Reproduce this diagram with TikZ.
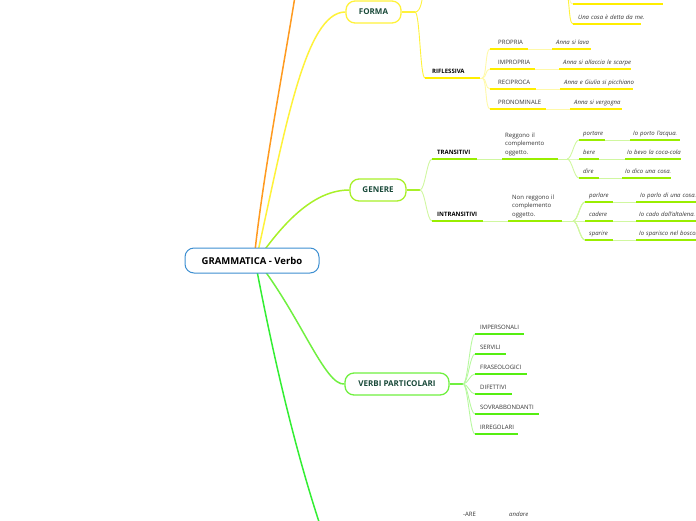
\documentclass[tikz,border=0pt]{standalone}
\usepackage{fontspec}
\setmainfont{Open Sans}
\usetikzlibrary{backgrounds}
\definecolor{brO}{HTML}{FF9A1F}
\definecolor{brY}{HTML}{FFF23A}
\definecolor{ulY}{HTML}{FFEE00}
\definecolor{paY}{HTML}{FFF9A8}
\definecolor{brL}{HTML}{A8F028}
\definecolor{ulL}{HTML}{99EE00}
\definecolor{paL}{HTML}{D0F7A0}
\definecolor{brG}{HTML}{70F040}
\definecolor{ulG}{HTML}{55EE11}
\definecolor{paG}{HTML}{B8F8A0}
\definecolor{brB}{HTML}{33EE33}
\definecolor{rootB}{HTML}{3D8FD1}
\definecolor{mainTxt}{HTML}{1A4A3A}
\definecolor{txtG}{HTML}{333333}
\newcommand\mmnode[7]{\node[#1, text width=#5pt] (#2) at (#3,#4) {\hspace*{#6pt}\begin{tabular}[b]{@{}l@{}}#7\end{tabular}};}
\newcommand\mmcurve[3]{\draw[#1] (#2) .. controls ([xshift=5pt]#2) and ([xshift=-5pt]#3) .. (#3);}
\begin{document}
\begin{tikzpicture}[x=1pt,y=-1pt,
  mainbox/.style={rounded corners=9pt, fill=white, line width=1.3pt, inner sep=0pt,
    minimum height=22pt, font=\fontsize{8}{9}\selectfont\bfseries, text=mainTxt},
  rootbox/.style={mainbox, draw=rootB, line width=1pt, minimum height=25pt, minimum width=134pt,
    font=\fontsize{9.5}{11}\selectfont\bfseries, text=black},
  mm/.style={anchor=south west, inner xsep=0pt, inner ysep=3pt, text depth=1.5pt,
    font=\fontsize{6}{8.5}\selectfont, text=txtG},
  mmb/.style={mm, font=\fontsize{6}{8.5}\selectfont\bfseries, text=black},
  mmi/.style={mm, font=\fontsize{6}{8.5}\selectfont\itshape},
  uline/.style={line width=2pt, draw=#1},
  pale/.style={line width=0.9pt, draw=#1},
  branch/.style={line width=1.5pt, draw=#1}
]
\clip (0,0) rectangle (696,520);
% main nodes
\node[rootbox] (root) at (252,260.5) {GRAMMATICA - Verbo};
\node[mainbox, draw=brY, minimum width=55pt] (forma) at (373.5,12) {FORMA};
\node[mainbox, draw=brL, minimum width=56pt] (genere) at (378,190) {GENERE};
\node[mainbox, draw=brG, minimum width=104pt] (verbi) at (397,384) {VERBI PARTICOLARI};
% coordinates
\coordinate (otop) at (296,-10);
\coordinate (bot) at (340,580);
\coordinate (fb) at (415,12);
\coordinate (fup) at (424,-12);
\coordinate (pb) at (565,-10);
\coordinate (rb) at (482,78);
\coordinate (gb) at (420,190);
\coordinate (tb) at (567,159);
\coordinate (ib) at (573,221);
\coordinate (vb) at (463,384);
% FORMA subtree
\mmnode{mmi}{pas1}{573}{4}{90}{5}{La cosa è stata detta da me.}
\mmnode{mmi}{pas2}{573}{24}{68}{5}{Una cosa è detta da me.}
\mmnode{mmb}{rifl}{425}{78}{55}{7}{RIFLESSIVA}
\mmnode{mm}{propria}{490}{49}{38}{8}{PROPRIA}
\mmnode{mm}{impropria}{490}{69}{45}{8}{IMPROPRIA}
\mmnode{mm}{reciproca}{490}{89}{46}{8}{RECIPROCA}
\mmnode{mm}{pronominale}{490}{109}{56}{8}{PRONOMINALE}
\mmnode{mmi}{la}{552}{49}{39}{4}{Anna si lava}
\mmnode{mmi}{lb}{559}{69}{72}{4}{Anna si allaccia le scarpe}
\mmnode{mmi}{lc}{560}{89}{73}{4}{Anna e Giulia si picchiano}
\mmnode{mmi}{ld}{570}{109}{52}{4}{Anna si vergogna}
% GENERE subtree
\mmnode{mmb}{trans}{432}{159}{45}{5}{TRANSITIVI}
\mmnode{mm}{reggono}{502}{159}{56}{3}{Reggono il\\complemento\\oggetto.}
\mmnode{mmi}{portare}{579}{140}{26}{4}{portare}
\mmnode{mmi}{bere}{579}{159}{20}{4}{bere}
\mmnode{mmi}{dire}{579}{178}{20}{4}{dire}
\mmnode{mmi}{ta}{630}{140}{50}{3}{Io porto l'acqua.}
\mmnode{mmi}{tb2}{625}{159}{56}{2}{Io bevo la coca-cola}
\mmnode{mmi}{tc}{622}{178}{49}{3}{Io dico una cosa.}
\mmnode{mmb}{intrans}{432}{221}{51}{5}{INTRANSITIVI}
\mmnode{mm}{nonreg}{508}{221}{54}{4}{Non reggono il\\complemento\\oggetto.}
\mmnode{mmi}{parlare}{585}{202}{28}{4}{parlare}
\mmnode{mmi}{cadere}{585}{221}{28}{4}{cadere}
\mmnode{mmi}{sparire}{585}{240}{28}{4}{sparire}
\mmnode{mmi}{ia}{636}{202}{62}{4}{Io parlo di una cosa.}
\mmnode{mmi}{ib2}{636}{221}{62}{3}{Io cado dall'altalena.}
\mmnode{mmi}{ic}{636}{240}{62}{3}{Io sparisco nel bosco.}
% VERBI PARTICOLARI subtree
\mmnode{mm}{imp}{475}{334}{49}{5}{IMPERSONALI}
\mmnode{mm}{ser}{475}{354}{31}{5}{SERVILI}
\mmnode{mm}{fra}{475}{374}{52}{5}{FRASEOLOGICI}
\mmnode{mm}{dif}{475}{394}{37}{5}{DIFETTIVI}
\mmnode{mm}{sov}{475}{414}{64}{5}{SOVRABBONDANTI}
\mmnode{mm}{irr}{475}{434}{43}{5}{IRREGOLARI}
% bottom subtree
\mmnode{mm}{are}{458}{521.5}{36}{5}{-ARE}
\mmnode{mmi}{andare}{505}{521.5}{36}{4}{andare}
% underlines
\foreach \n in {pas1,pas2,rifl,propria,impropria,reciproca,pronominale,la,lb,lc,ld}
  \draw[uline=ulY] (\n.south west) -- (\n.south east);
\foreach \n in {trans,reggono,portare,bere,dire,ta,tb2,tc,intrans,nonreg,parlare,cadere,sparire,ia,ib2,ic}
  \draw[uline=ulL] (\n.south west) -- (\n.south east);
\foreach \n in {imp,ser,fra,dif,sov,irr}
  \draw[uline=ulG] (\n.south west) -- (\n.south east);
\foreach \n in {are,andare}
  \draw[uline=brB] (\n.south west) -- (\n.south east);
\begin{pgfonlayer}{background}
% main branches
\draw[branch=brO] ([xshift=2pt]root.center) .. controls (262,180) and (285,60) .. (otop);
\draw[branch=brY] ([xshift=4pt]root.center) .. controls (285,130) and (305,12) .. (forma.west);
\draw[branch=brL] ([xshift=5pt]root.center) .. controls (285,220) and (315,190) .. (genere.west);
\draw[branch=brG] ([xshift=5pt]root.center) .. controls (300,315) and (325,386) .. (verbi.west);
\draw[branch=brB] ([xshift=3pt]root.center) .. controls (272,350) and (300,480) .. (bot);
% FORMA
\draw[pale=brY, line width=1.2pt] (forma.east) -- (fb);
\draw[pale=brY] (fb) .. controls (421,12) and (422,0) .. (fup);
\mmcurve{pale=brY}{fb}{rifl.south west}
\mmcurve{pale=paY}{pb}{pas1.south west}
\mmcurve{pale=brY}{pb}{pas2.south west}
\draw[pale=paY] (rifl.south east) -- (rb);
\foreach \n in {propria,impropria,reciproca,pronominale}
  \mmcurve{pale=paY}{rb}{\n.south west}
\draw[pale=paY] (propria.south east) -- (la.south west);
\draw[pale=paY] (impropria.south east) -- (lb.south west);
\draw[pale=paY] (reciproca.south east) -- (lc.south west);
\draw[pale=paY] (pronominale.south east) -- (ld.south west);
% GENERE
\draw[pale=brL, line width=1.2pt] (genere.east) -- (gb);
\mmcurve{pale=paL}{gb}{trans.south west}
\mmcurve{pale=paL}{gb}{intrans.south west}
\draw[pale=paL] (trans.south east) -- (reggono.south west);
\draw[pale=paL] (intrans.south east) -- (nonreg.south west);
\draw[pale=paL] (reggono.south east) -- (tb);
\draw[pale=paL] (nonreg.south east) -- (ib);
\foreach \n in {portare,bere,dire}
  \mmcurve{pale=paL}{tb}{\n.south west}
\foreach \n in {parlare,cadere,sparire}
  \mmcurve{pale=paL}{ib}{\n.south west}
\draw[pale=paL] (portare.south east) -- (ta.south west);
\draw[pale=paL] (bere.south east) -- (tb2.south west);
\draw[pale=paL] (dire.south east) -- (tc.south west);
\draw[pale=paL] (parlare.south east) -- (ia.south west);
\draw[pale=paL] (cadere.south east) -- (ib2.south west);
\draw[pale=paL] (sparire.south east) -- (ic.south west);
% VERBI PARTICOLARI
\draw[pale=brG, line width=1.2pt] (verbi.east) -- (vb);
\foreach \n in {imp,ser,fra,dif,sov,irr}
  \mmcurve{pale=paG}{vb}{\n.south west}
% bottom
\draw[pale=paG] (are.south east) -- (andare.south west);
\end{pgfonlayer}
\end{tikzpicture}
\end{document}
